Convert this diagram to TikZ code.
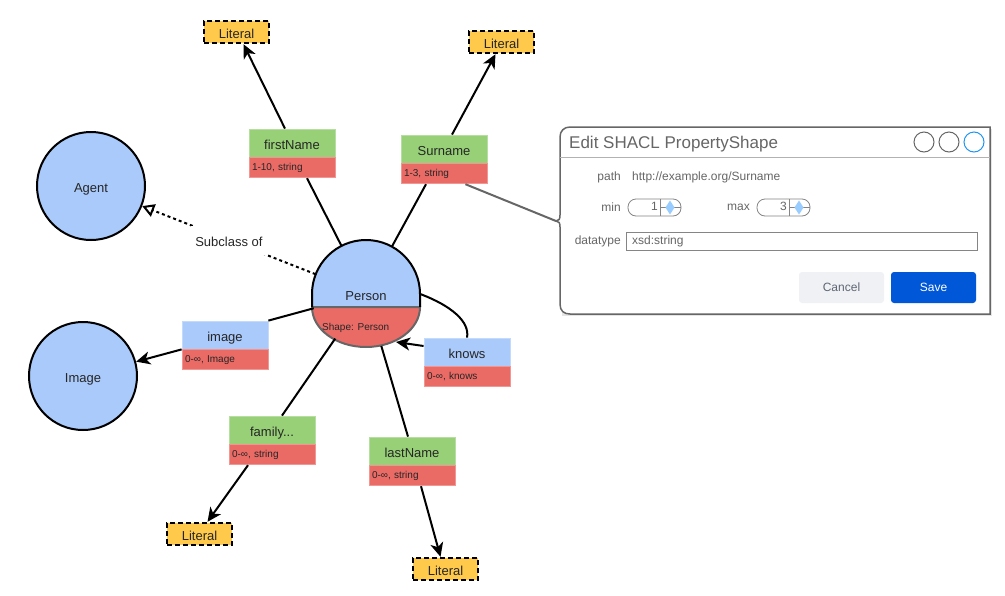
\documentclass[tikz,border=0pt]{standalone}
\usepackage{fontspec}
\setmainfont{Liberation Sans}
\usetikzlibrary{arrows.meta}
\definecolor{cblue}{HTML}{A9CAFA}
\definecolor{cgreen}{HTML}{97D077}
\definecolor{cred}{HTML}{EA6B66}
\definecolor{clit}{HTML}{FFCA4B}
\definecolor{dgray}{HTML}{666666}
\definecolor{cring}{HTML}{2196F3}
\definecolor{cdiam}{HTML}{99CCFF}
\definecolor{cbtn}{HTML}{F0F1F4}
\definecolor{cbtntxt}{HTML}{5F6673}
\definecolor{csave}{HTML}{0057D8}
\begin{document}
\begin{tikzpicture}[x=1pt,y=-1pt,
  bigtxt/.style={font=\fontsize{13}{15}\selectfont, text=black!85, text height=12.6pt, text depth=0.4pt},
  hdr/.style={rectangle, minimum width=86pt, minimum height=28pt, inner sep=0pt, bigtxt},
  gbox/.style={hdr, fill=cgreen, draw=cgreen!70!white, line width=0.8pt},
  bbox/.style={hdr, fill=cblue, draw=cblue!70!white, line width=0.8pt},
  subbox/.style={rectangle, fill=cred, draw=cred!70!white, line width=0.8pt, minimum height=20pt, text width=80pt, inner xsep=3pt, inner ysep=0pt, align=left, anchor=north, font=\fontsize{10}{12}\selectfont, text=black!85},
  lit/.style={rectangle, fill=clit, draw=black, line width=2.4pt, dash pattern=on 5pt off 3pt, minimum width=65pt, minimum height=22pt, inner sep=0pt, bigtxt},
  cls/.style={circle, fill=cblue, draw=black, line width=2pt, minimum size=108pt, inner sep=0pt, bigtxt},
  edgeline/.style={line width=2pt, black},
  arr/.style={edgeline, -{Stealth[length=14pt,width=13pt,inset=4pt]}},
  lbl/.style={inner sep=0pt, font=\fontsize{12}{14}\selectfont, text=dgray},
  spinbox/.style={draw=dgray!80, line width=0.8pt, rounded corners=8pt, minimum width=53pt, minimum height=17pt, inner sep=0pt},
  btn/.style={rectangle, rounded corners=3pt, minimum width=85pt, minimum height=31pt, inner sep=0pt, font=\fontsize{12}{14}\selectfont}
]
\useasboundingbox (0,0) rectangle (1005,595);

% Person shape
\node[circle, minimum size=108pt, inner sep=0pt] (person) at (366,294) {};
\fill[cblue] (312,307) -- (312,294) arc[start angle=180, end angle=360, radius=54] -- (420,307) -- cycle;
\fill[cred] (312,307) -- (420,307) arc[start angle=0, end angle=180, x radius=54, y radius=40] -- cycle;
\draw[line width=2pt, dgray] (312,307) -- (420,307) arc[start angle=0, end angle=180, x radius=54, y radius=40];
\draw[line width=2pt, black] (312,307) -- (312,294) arc[start angle=180, end angle=360, radius=54] -- (420,307);
\node[bigtxt] (personlbl) at (366,294) {Person};
\node[anchor=west, inner sep=0pt, font=\fontsize{10}{12}\selectfont, text=black!85] (shapelbl) at (322,327.5) {Shape: Person};

% classes
\node[cls] (agent) at (91,186) {Agent};
\node[cls] (imagec) at (83,376) {Image};

% literals
\node[lit] (lit1) at (236.5,32) {Literal};
\node[lit] (lit2) at (501.5,42) {Literal};
\node[lit] (lit3) at (199.5,534) {Literal};
\node[lit] (lit4) at (445.5,569) {Literal};

% property boxes
\node[gbox] (fnh) at (292,143) {firstName};
\node[subbox] (fns) at (fnh.south) {1-10, string};
\node[gbox] (snh) at (444,149) {Surname};
\node[subbox] (sns) at (snh.south) {1-3, string};
\node[bbox] (imh) at (225,335) {image};
\node[subbox] (ims) at (imh.south) {0-∞, Image};
\node[bbox] (knh) at (467,352) {knows};
\node[subbox] (kns) at (knh.south) {0-∞, knows};
\node[gbox] (fmh) at (272,430) {family...};
\node[subbox] (fms) at (fmh.south) {0-∞, string};
\node[gbox] (lnh) at (412,451) {lastName};
\node[subbox] (lns) at (lnh.south) {0-∞, string};

% connectors
\draw[edgeline] (person) -- ([xshift=15pt]fns.south);
\draw[arr] ([xshift=-7pt]fnh.north) -- ([xshift=7pt]lit1.south);
\draw[edgeline] (person) -- ([xshift=-18pt]sns.south);
\draw[arr] ([xshift=8pt]snh.north) -- ([xshift=-6pt]lit2.south);
\draw[edgeline] (person) -- (imh.north east);
\draw[arr] (imh.south west) -- (imagec);
\draw[edgeline] (person.east) .. controls (452,306) and (470,322) .. (knh.north);
\coordinate (kntip) at (396,342);
\draw[arr] ([yshift=6pt]knh.west) -- (kntip);
\draw[edgeline] (person) -- ([xshift=10pt]fmh.north);
\draw[arr] ([xshift=-24pt]fms.south) -- ([xshift=8pt]lit3.north);
\draw[edgeline] (person) -- ([xshift=-4pt]lnh.north);
\draw[arr] ([xshift=9pt]lns.south) -- ([xshift=-5pt]lit4.north);
\draw[line width=2pt, dash pattern=on 3pt off 3pt, -{Triangle[open, length=12pt, width=13pt]}] (person) -- node[fill=white, inner xsep=4pt, inner ysep=8pt, bigtxt] (subl) {Subclass of} (agent);

% dialog
\coordinate (dlgtip) at (556,221);
\fill[black!10] (562,129) rectangle (992,316);
\filldraw[fill=white, draw=dgray, line width=1.5pt] (570,127) -- (990,127) -- (990,314) -- (570,314) .. controls (564,314) and (560,311) .. (560,304) -- (560,227) .. controls (560,223) and (559,221) .. (dlgtip) .. controls (559,221) and (560,219) .. (560,215) -- (560,137) .. controls (560,131) and (564,127) .. (570,127) -- cycle;
\draw[dgray!50, line width=1pt] (560,157) -- (990,157);
\draw[line width=2pt, dgray] ([xshift=-22pt]sns.south east) -- (dlgtip);
\node[anchor=west, inner sep=0pt, font=\fontsize{17}{20}\selectfont, text=dgray] (title) at (569,144) {Edit SHACL PropertyShape};
\node[circle, draw=dgray, line width=1pt, minimum size=20pt, inner sep=0pt] (c1) at (924,142) {};
\node[circle, draw=dgray, line width=1pt, minimum size=20pt, inner sep=0pt] (c2) at (949,142) {};
\node[circle, draw=cring, line width=1pt, minimum size=20pt, inner sep=0pt] (c3) at (974,142) {};

\node[lbl, anchor=east] (pathl) at (621,177) {path};
\node[lbl, anchor=west] (pathv) at (632,177) {http://example.org/Surname};

\node[lbl, anchor=east] (minl) at (621,207) {min};
\node[spinbox] (minbox) at (654.5,207.5) {};
\draw[dgray!80, line width=0.8pt] (660,199) -- (660,216);
\draw[dgray!80, line width=0.6pt] (660,207.5) -- (681,207.5);
\fill[cdiam] (670,200.5) -- (674.5,207.5) -- (670,214.5) -- (665.5,207.5) -- cycle;
\node[lbl, anchor=east] (minv) at (658,206) {1};

\node[lbl, anchor=east] (maxl) at (750,207) {max};
\node[spinbox] (maxbox) at (783.5,207.5) {};
\draw[dgray!80, line width=0.8pt] (789,199) -- (789,216);
\draw[dgray!80, line width=0.6pt] (789,207.5) -- (810,207.5);
\fill[cdiam] (799,200.5) -- (803.5,207.5) -- (799,214.5) -- (794.5,207.5) -- cycle;
\node[lbl, anchor=east] (maxv) at (787,206) {3};

\node[lbl, anchor=east] (dtl) at (621,241) {datatype};
\node[draw=dgray!80, line width=0.8pt, minimum width=351pt, minimum height=18pt, inner sep=0pt] (dtbox) at (801.5,241) {};
\node[lbl, anchor=west] (dtv) at (632,241.5) {xsd:string};

\node[btn, fill=cbtn, text=cbtntxt] (cancel) at (841.5,287.5) {Cancel};
\node[btn, fill=csave, text=white] (save) at (933.5,287.5) {Save};
\end{tikzpicture}
\end{document}
